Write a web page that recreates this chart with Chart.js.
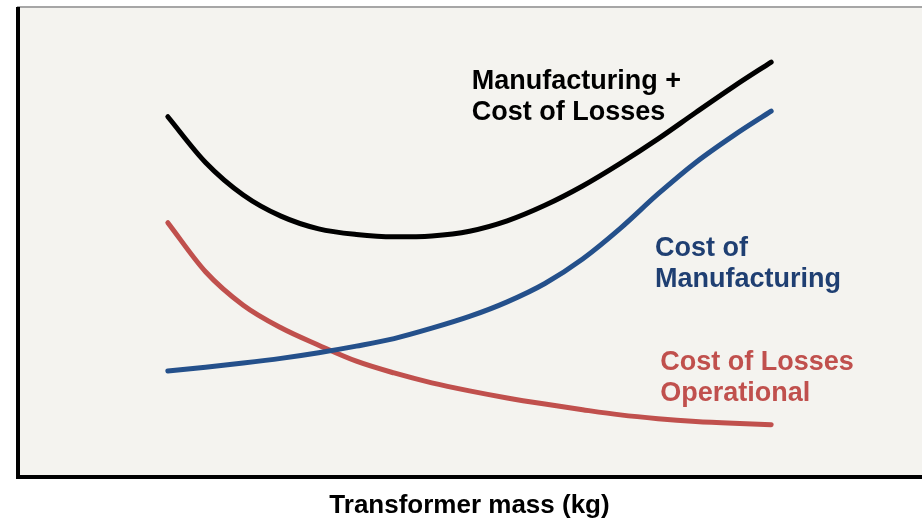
<!DOCTYPE html>
<html>
<head>
<meta charset="utf-8">
<script src="https://cdn.jsdelivr.net/npm/chart.js@4.4.0/dist/chart.umd.min.js"></script>
<style>
  html, body { margin: 0; padding: 0; background: #ffffff; }
  #wrap { width: 922px; height: 524px; position: relative; }
</style>
</head>
<body>
<div id="wrap"><canvas id="cost-chart" width="922" height="524"></canvas></div>
<script>
// transformer mass (arbitrary units)
const mass = [1, 1.5, 2, 2.5, 3, 3.5, 4, 4.5, 5, 5.5, 6, 6.5, 7, 7.5, 8, 8.5, 9];

// cost curves (arbitrary units)
const totalCost = [76.7, 67.0, 60.1, 55.6, 52.9, 51.7, 51.2, 51.4, 52.4, 54.6, 57.9, 62.0, 66.8, 72.0, 77.6, 83.1, 88.3];
const manufacturingCost = [22.7, 23.5, 24.4, 25.4, 26.6, 28.0, 29.6, 31.8, 34.3, 37.4, 41.3, 46.5, 53.0, 60.3, 67.0, 72.7, 77.9];
const lossesCost = [54.2, 43.8, 36.7, 31.9, 28.2, 24.8, 22.3, 20.2, 18.5, 17.0, 15.7, 14.5, 13.4, 12.6, 12.0, 11.6, 11.3];

const axisTitle = 'Transformer mass (kg)';

// curve labels: text lines + anchor in data units
const curveLabels = [
    { lines: ['Manufacturing +', 'Cost of Losses'], color: '#000000', x: 5.03, y: 82.6 },
    { lines: ['Cost of', 'Manufacturing'], color: '#1f3f72', x: 7.46, y: 47.1 },
    { lines: ['Cost of Losses', 'Operational'], color: '#c0504d', x: 7.53, y: 22.9 }
];

const toPoints = (ys) => ys.map((y, i) => ({ x: mass[i], y: y }));

const framePlugin = {
    id: 'frame',
    beforeDatasetsDraw(chart) {
        const { ctx, chartArea: a } = chart;
        ctx.save();
        ctx.fillStyle = '#f4f3ef';
        ctx.fillRect(a.left, a.top, a.right - a.left, a.bottom - a.top);
        // thin grey top edge
        ctx.fillStyle = '#a6a6a6';
        ctx.fillRect(a.left, a.top - 1, a.right - a.left, 2);
        // heavy black left and bottom edges
        ctx.fillStyle = '#000000';
        ctx.fillRect(a.left - 1, a.top, 4, a.bottom - a.top + 1);
        ctx.fillRect(a.left - 1, a.bottom - 3, a.right - a.left + 1, 4);
        ctx.restore();
    },
    afterDraw(chart) {
        const { ctx, chartArea: a, scales } = chart;
        ctx.save();
        ctx.font = 'bold 27px "Liberation Sans", Arial, sans-serif';
        ctx.textBaseline = 'alphabetic';
        ctx.textAlign = 'left';
        curveLabels.forEach(lbl => {
            const px = scales.x.getPixelForValue(lbl.x);
            const py = scales.y.getPixelForValue(lbl.y);
            ctx.fillStyle = lbl.color;
            lbl.lines.forEach((line, i) => ctx.fillText(line, px, py + i * 31));
        });
        // x axis title
        ctx.fillStyle = '#000000';
        ctx.font = 'bold 26px "Liberation Sans", Arial, sans-serif';
        ctx.textAlign = 'center';
        ctx.fillText(axisTitle, (a.left + a.right) / 2, 513);
        ctx.restore();
    }
};

const lineStyle = (color) => ({
    borderColor: color,
    borderWidth: 5,
    borderCapStyle: 'round',
    pointRadius: 0,
    fill: false,
    cubicInterpolationMode: 'monotone'
});

new Chart(document.getElementById('cost-chart'), {
    type: 'line',
    data: {
        datasets: [
            { label: 'Manufacturing + Cost of Losses', data: toPoints(totalCost), ...lineStyle('#000000') },
            { label: 'Cost of Manufacturing', data: toPoints(manufacturingCost), ...lineStyle('#24508b') },
            { label: 'Cost of Losses Operational', data: toPoints(lossesCost), ...lineStyle('#c0504d') }
        ]
    },
    options: {
        responsive: false,
        animation: false,
        layout: { padding: { left: 17, top: 7, right: 0, bottom: 46 } },
        scales: {
            x: { type: 'linear', min: -1, max: 11, display: false },
            y: { min: 0, max: 100, display: false }
        },
        plugins: {
            legend: { display: false },
            tooltip: { enabled: false }
        }
    },
    plugins: [framePlugin]
});
</script>
</body>
</html>
